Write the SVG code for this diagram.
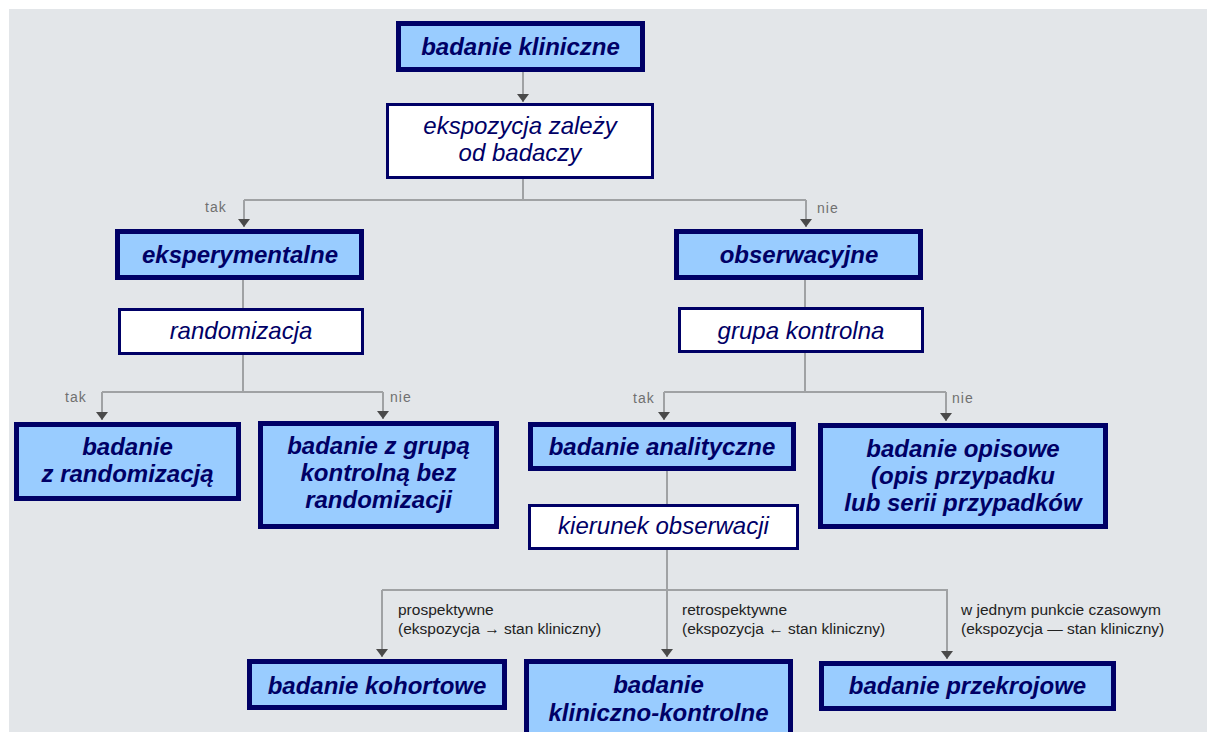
<svg xmlns="http://www.w3.org/2000/svg" width="1207" height="732" viewBox="0 0 1207 732">
<defs>
<style>
.bg{fill:#e3e6e9}
.blue{fill:#99ccff;stroke:#000066;stroke-width:5}
.white{fill:#ffffff;stroke:#000066;stroke-width:3}
.bt{font-family:"Liberation Sans",Arial,sans-serif;font-size:24px;font-weight:bold;font-style:italic;fill:#000066;text-anchor:middle}
.wt{font-family:"Liberation Sans",Arial,sans-serif;font-size:24px;font-style:italic;fill:#000066;text-anchor:middle}
.conn{fill:none;stroke:#a0a2a4;stroke-width:2}
.yn{font-family:"Liberation Sans",Arial,sans-serif;font-size:14px;letter-spacing:1px;fill:#707070}
.lbl{font-family:"Liberation Sans",Arial,sans-serif;font-size:15.5px;fill:#222222}
</style>
<marker id="ad" viewBox="0 0 12 8" refX="6" refY="8" markerWidth="12" markerHeight="8" markerUnits="userSpaceOnUse" orient="0">
<path d="M0,0 L12,0 L6,8 Z" fill="#4a4a4a"/>
</marker>
</defs>
<rect x="0" y="0" width="1207" height="732" fill="#ffffff"/>
<rect class="bg" x="9" y="9" width="1198" height="723"/>

<g id="connectors">
<path class="conn" d="M523,72 V102" marker-end="url(#ad)"/>
<path class="conn" d="M523,179 V200 M244,200 H806"/>
<path class="conn" d="M244,200 V227" marker-end="url(#ad)"/>
<path class="conn" d="M806,200 V227" marker-end="url(#ad)"/>
<path class="conn" d="M243,280 V308 M243,355 V392 M102,392 H383"/>
<path class="conn" d="M102,392 V420" marker-end="url(#ad)"/>
<path class="conn" d="M383,392 V419" marker-end="url(#ad)"/>
<path class="conn" d="M805,280 V307 M805,353 V392 M664,392 H946"/>
<path class="conn" d="M664,392 V420" marker-end="url(#ad)"/>
<path class="conn" d="M946,392 V421" marker-end="url(#ad)"/>
<path class="conn" d="M382,590 H948"/>
<path class="conn" d="M667,471 V657" marker-end="url(#ad)"/>
<path class="conn" d="M382,590 V657" marker-end="url(#ad)"/>
<path class="conn" d="M947,590 V659" marker-end="url(#ad)"/>
<text class="yn" x="205" y="212">tak</text>
<text class="yn" x="817" y="213">nie</text>
<text class="yn" x="65" y="402">tak</text>
<text class="yn" x="390" y="402">nie</text>
<text class="yn" x="633" y="403">tak</text>
<text class="yn" x="952" y="403">nie</text>
<text class="lbl" x="398" y="615">prospektywne</text>
<text class="lbl" x="398" y="634">(ekspozycja → stan kliniczny)</text>
<text class="lbl" x="682" y="615">retrospektywne</text>
<text class="lbl" x="682" y="634">(ekspozycja ← stan kliniczny)</text>
<text class="lbl" x="961" y="615">w jednym punkcie czasowym</text>
<text class="lbl" x="961" y="634">(ekspozycja — stan kliniczny)</text>
</g>

<g id="n-kliniczne">
<rect class="blue" x="398.5" y="23.5" width="244" height="46"/>
<text class="bt" x="520.5" y="55">badanie kliniczne</text>
</g>
<g id="n-ekspozycja">
<rect class="white" x="387.5" y="104.5" width="265" height="73"/>
<text class="wt" x="520" y="134">ekspozycja zależy</text>
<text class="wt" x="520" y="161">od badaczy</text>
</g>
<g id="n-eksperymentalne">
<rect class="blue" x="117.5" y="231.5" width="244" height="46"/>
<text class="bt" x="240" y="263">eksperymentalne</text>
</g>
<g id="n-obserwacyjne">
<rect class="blue" x="676.5" y="231.5" width="244" height="46"/>
<text class="bt" x="799" y="263">obserwacyjne</text>
</g>
<g id="n-randomizacja">
<rect class="white" x="119.5" y="309.5" width="243" height="44"/>
<text class="wt" x="241" y="339">randomizacja</text>
</g>
<g id="n-grupa">
<rect class="white" x="679.5" y="308.5" width="243" height="43"/>
<text class="wt" x="801" y="339">grupa kontrolna</text>
</g>
<g id="n-z-randomizacja">
<rect class="blue" x="16.5" y="424.5" width="222" height="74"/>
<text class="bt" x="127.5" y="455">badanie</text>
<text class="bt" x="127.5" y="482">z randomizacją</text>
</g>
<g id="n-bez-randomizacji">
<rect class="blue" x="260.5" y="423.5" width="236" height="103"/>
<text class="bt" x="378.5" y="454">badanie z grupą</text>
<text class="bt" x="378.5" y="481">kontrolną bez</text>
<text class="bt" x="378.5" y="508">randomizacji</text>
</g>
<g id="n-analityczne">
<rect class="blue" x="530.5" y="424.5" width="263" height="44"/>
<text class="bt" x="662" y="455">badanie analityczne</text>
</g>
<g id="n-opisowe">
<rect class="blue" x="820.5" y="425.5" width="285" height="101"/>
<text class="bt" x="963" y="457">badanie opisowe</text>
<text class="bt" x="963" y="484">(opis przypadku</text>
<text class="bt" x="963" y="511">lub serii przypadków</text>
</g>
<g id="n-kierunek">
<rect class="white" x="529.5" y="505.5" width="268" height="43"/>
<text class="wt" x="663.5" y="534">kierunek obserwacji</text>
</g>
<g id="n-kohortowe">
<rect class="blue" x="249.5" y="661.5" width="255" height="46"/>
<text class="bt" x="377" y="694">badanie kohortowe</text>
</g>
<g id="n-kliniczno-kontrolne">
<rect class="blue" x="526.5" y="661.5" width="264" height="80"/>
<text class="bt" x="658.5" y="693">badanie</text>
<text class="bt" x="658.5" y="721">kliniczno-kontrolne</text>
</g>
<g id="n-przekrojowe">
<rect class="blue" x="821.5" y="663.5" width="292" height="45"/>
<text class="bt" x="967.5" y="694">badanie przekrojowe</text>
</g>
</svg>
